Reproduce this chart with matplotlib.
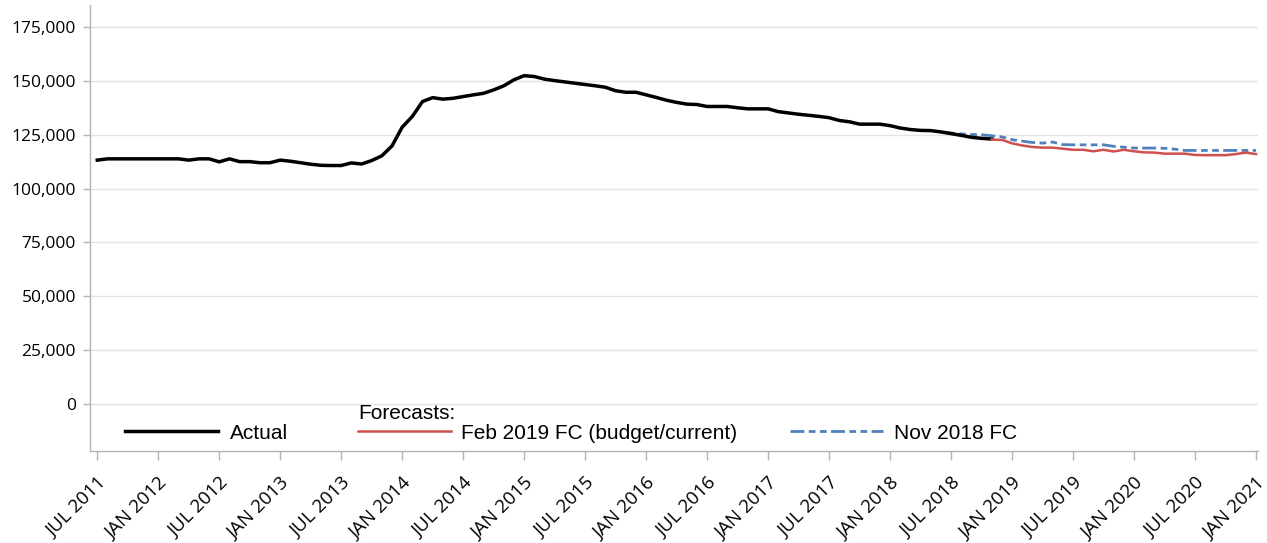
import numpy as np
import matplotlib as mpl
mpl.use('Agg')
from matplotlib import pyplot as plt
from matplotlib.ticker import FuncFormatter

# months counted from JUL 2011 (= 0)
actual_start = 0
actual = [113200, 113800, 113800, 113800, 113800, 113800, 113800, 113800, 113800, 113200,
          113800, 113800, 112400, 113800, 112500, 112500, 112000, 112000, 113200, 112700,
          112000, 111300, 110800, 110700, 110700, 111900, 111400, 113000, 115200, 119800,
          128500, 133500, 140400, 142200, 141500, 141900, 142700, 143500, 144200, 145800,
          147700, 150500, 152400, 152000, 150800, 150100, 149500, 148900, 148300, 147700,
          147000, 145400, 144700, 144700, 143500, 142300, 141000, 140000, 139200, 139000,
          138100, 138100, 138100, 137500, 137000, 137000, 137000, 135700, 135100, 134500,
          134000, 133500, 132900, 131600, 131000, 129900, 129900, 129900, 129200, 128100,
          127400, 127000, 126900, 126300, 125500, 124700, 123800, 123300, 123000]

feb19_start = 88
feb19_fc = [122700, 122600, 121000, 120000, 119300, 119000, 119000, 118500, 118000, 118000,
            117300, 118000, 117200, 118000, 117300, 116800, 116700, 116200, 116200, 116200,
            115600, 115500, 115500, 115500, 116000, 116700, 116000]

nov18_start = 83
nov18_fc = [126200, 125800, 125400, 125100, 125000, 124500, 124000, 122700, 122000, 121400,
            121100, 121600, 120400, 120300, 120300, 120300, 120300, 119600, 119200, 118800,
            118800, 118800, 118700, 118300, 117700, 117700, 117700, 117700, 117700, 117700,
            117700, 117700]

tick_labels = ["JUL 2011", "JAN 2012", "JUL 2012", "JAN 2013", "JUL 2013", "JAN 2014",
               "JUL 2014", "JAN 2015", "JUL 2015", "JAN 2016", "JUL 2016", "JAN 2017",
               "JUL 2017", "JAN 2018", "JUL 2018", "JAN 2019", "JUL 2019", "JAN 2020",
               "JUL 2020", "JAN 2021"]
y_ticks = [0, 25000, 50000, 75000, 100000, 125000, 150000, 175000]

grey = '#b4b4b4'
leg_font = {'family': 'Liberation Sans', 'size': 15}

fig = plt.figure(figsize=(12.67, 5.43), dpi=100)
ax = fig.add_axes([0.0710, 0.1694, 0.9219, 0.8214])

l_act, = ax.plot(np.arange(len(actual)) + actual_start, actual, color='black', lw=2.5,
                 solid_joinstyle='round', label='Actual', zorder=3)
l_feb, = ax.plot(np.arange(len(feb19_fc)) + feb19_start, feb19_fc, color='#cf504e', lw=1.8,
                 label='Feb 2019 FC (budget/current)', zorder=4)
l_nov, = ax.plot(np.arange(len(nov18_fc)) + nov18_start, nov18_fc, color='#4f81bd', lw=2.0,
                 ls=(0, (5, 1.6, 2.4, 1.6, 2.4, 1.6)), label='Nov 2018 FC', zorder=2)

ax.set_xlim(-0.72, 114.2)
ax.set_ylim(-21800, 185200)

ax.set_xticks(np.arange(len(tick_labels)) * 6)
ax.set_xticklabels(tick_labels, rotation=45, ha='right', va='top', rotation_mode='anchor',
                   family='Open Sans', fontsize=13.5)
ax.set_yticks(y_ticks)
ax.yaxis.set_major_formatter(FuncFormatter(lambda v, p: '{:,.0f}'.format(v)))
for lab in ax.get_yticklabels():
    lab.set_family('Open Sans')
    lab.set_fontsize(12.5)

ax.tick_params(axis='both', colors=grey, labelcolor='black', width=1)
ax.tick_params(axis='y', length=5, pad=5)
ax.tick_params(axis='x', length=6.5, pad=10)

ax.grid(True, axis='y', color='#e3e3e3', lw=1)
ax.set_axisbelow(True)
for side in ['top', 'right']:
    ax.spines[side].set_visible(False)
for side in ['left', 'bottom']:
    ax.spines[side].set_color(grey)
    ax.spines[side].set_linewidth(1)

# legend split in two: actual on its own, forecasts grouped under a heading
leg1 = ax.legend(handles=[l_act], loc='center left', bbox_to_anchor=(0.030, 0.040),
                 frameon=False, borderpad=0, borderaxespad=0, handlelength=4.45,
                 handletextpad=0.6, prop=leg_font)
ax.add_artist(leg1)
ax.legend(handles=[l_feb, l_nov], ncol=2, loc='center left', bbox_to_anchor=(0.2295, 0.040),
          frameon=False, borderpad=0, borderaxespad=0, handlelength=4.45,
          handletextpad=0.5, columnspacing=2.55, prop=leg_font)
ax.text(0.2295, 0.083, 'Forecasts:', transform=ax.transAxes, ha='left', va='center',
        family='Liberation Sans', fontsize=15)

plt.savefig('out.png', dpi=100)
